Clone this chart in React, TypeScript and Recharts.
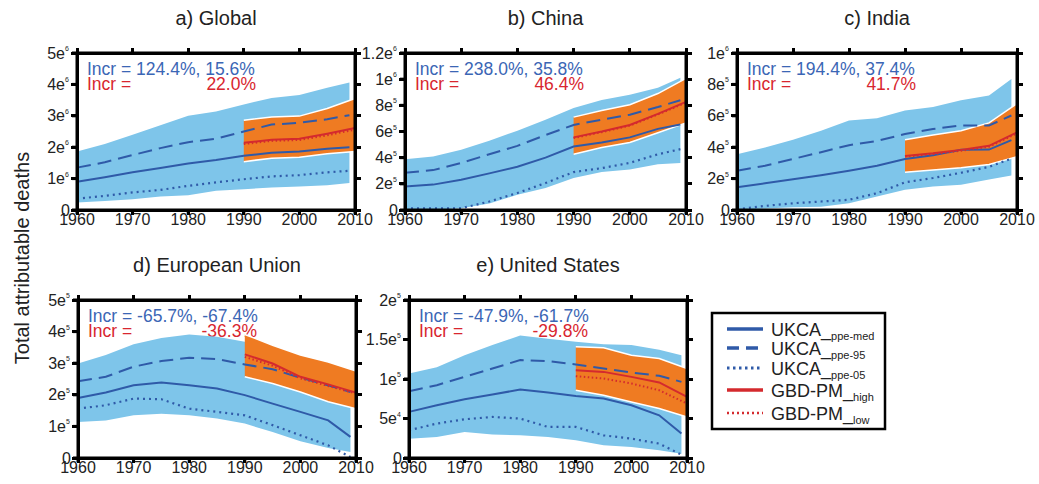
import React from "react";
import { ComposedChart, Area, Line, XAxis, YAxis } from "recharts";

const FONT = '"Liberation Sans", Arial, Helvetica, sans-serif';
const BAND_BLUE = "#7EC5EA";
const BAND_ORANGE = "#EF7B22";
const LINE_BLUE = "#2F5AA8";
const LINE_RED = "#D42A2E";
const TEXT_BLUE = "#3B66B5";
const TEXT_RED = "#D8262F";

const ukcaYears = [1960, 1965, 1970, 1975, 1980, 1985, 1990, 1995, 2000, 2005, 2009];
const gbdYears = [1990, 1995, 2000, 2005, 2010];
const xTicks = [1960, 1970, 1980, 1990, 2000, 2010];

// a) Global (x 1e6)
const globalHi = [1.86, 2.1, 2.4, 2.7, 3.0, 3.14, 3.36, 3.57, 3.66, 3.89, 4.06];
const globalLo = [0.24, 0.29, 0.34, 0.43, 0.47, 0.61, 0.66, 0.72, 0.75, 0.79, 0.86];
const globalMed = [0.9, 1.04, 1.2, 1.34, 1.48, 1.59, 1.73, 1.82, 1.86, 1.95, 2.0];
const globalP95 = [1.35, 1.52, 1.75, 1.97, 2.16, 2.27, 2.5, 2.72, 2.78, 2.89, 3.02];
const globalP05 = [0.36, 0.45, 0.56, 0.64, 0.77, 0.88, 0.98, 1.07, 1.11, 1.2, 1.25];
const globalGbdHi = [2.86, 2.96, 2.99, 3.23, 3.55];
const globalGbdLo = [1.54, 1.65, 1.68, 1.79, 1.86];
const globalGbdHigh = [2.14, 2.24, 2.27, 2.43, 2.61];
const globalGbdLow = [2.1, 2.2, 2.23, 2.38, 2.56];

// b) China (x 1e5)
const chinaHi = [3.87, 4.08, 4.6, 5.3, 6.06, 6.9, 7.8, 8.4, 8.8, 9.34, 10.1];
const chinaLo = [0, 0, 0.13, 0.5, 1.16, 1.68, 2.45, 2.9, 3.1, 3.5, 3.6];
const chinaMed = [1.8, 1.94, 2.32, 2.8, 3.3, 4.0, 4.85, 5.16, 5.55, 6.2, 6.53];
const chinaP95 = [2.84, 3.05, 3.6, 4.26, 4.9, 5.73, 6.5, 6.9, 7.28, 7.87, 8.39];
const chinaP05 = [0.13, 0.13, 0.13, 0.65, 1.3, 2.06, 2.9, 3.2, 3.6, 4.26, 4.65];
const chinaGbdHi = [7.1, 7.6, 8.05, 8.9, 10.06];
const chinaGbdLo = [4.26, 4.77, 5.16, 5.9, 6.66];
const chinaGbdHigh = [5.55, 6.0, 6.5, 7.35, 8.26];
const chinaGbdLow = [5.5, 5.95, 6.45, 7.3, 8.2];

// c) India (x 1e5)
const indiaHi = [3.55, 3.98, 4.47, 5.05, 5.7, 5.85, 6.34, 6.56, 6.99, 7.3, 8.34];
const indiaLo = [0, 0.1, 0.17, 0.2, 0.43, 0.86, 1.29, 1.5, 1.61, 1.94, 2.2];
const indiaMed = [1.45, 1.7, 1.96, 2.22, 2.5, 2.82, 3.25, 3.48, 3.83, 3.85, 4.45];
const indiaP95 = [2.5, 2.82, 3.25, 3.68, 4.13, 4.4, 4.84, 5.16, 5.38, 5.38, 6.02];
const indiaP05 = [0.04, 0.26, 0.43, 0.54, 0.65, 1.07, 1.76, 2.04, 2.37, 2.75, 3.27];
const indiaGbdHi = [4.47, 4.77, 5.05, 5.55, 6.77];
const indiaGbdLo = [2.4, 2.54, 2.69, 2.9, 3.4];
const indiaGbdHigh = [3.44, 3.61, 3.83, 4.09, 4.95];
const indiaGbdLow = [3.4, 3.56, 3.78, 4.03, 4.88];

// d) European Union (x 1e5)
const euHi = [2.99, 3.26, 3.6, 3.8, 3.91, 3.84, 3.68, 3.2, 2.85, 2.55, 2.35];
const euLo = [1.14, 1.19, 1.35, 1.4, 1.35, 1.25, 1.09, 0.82, 0.53, 0.32, 0.19];
const euMed = [1.9, 2.07, 2.3, 2.39, 2.3, 2.2, 1.99, 1.72, 1.46, 1.19, 0.67];
const euP95 = [2.43, 2.57, 2.89, 3.07, 3.17, 3.13, 2.96, 2.81, 2.54, 2.3, 2.09];
const euP05 = [1.56, 1.67, 1.88, 1.86, 1.56, 1.46, 1.35, 1.04, 0.72, 0.4, 0.03];
const euGbdHi = [3.91, 3.57, 3.26, 3.04, 2.75];
const euGbdLo = [2.57, 2.36, 2.09, 1.78, 1.56];
const euGbdHigh = [3.28, 2.99, 2.57, 2.33, 2.07];
const euGbdLow = [3.2, 2.92, 2.52, 2.28, 2.04];

// e) United States (x 1e4)
const usHi = [10.7, 11.5, 13.0, 14.3, 15.5, 15.1, 14.7, 14.4, 14.3, 13.7, 13.0];
const usLo = [2.45, 2.66, 3.3, 2.96, 2.87, 2.66, 2.24, 1.6, 1.4, 0.97, 0.55];
const usMed = [5.84, 6.68, 7.44, 8.03, 8.67, 8.29, 7.86, 7.53, 6.68, 5.41, 3.09];
const usP95 = [8.46, 9.22, 10.27, 11.33, 12.39, 12.26, 11.84, 11.33, 10.82, 10.4, 9.64];
const usP05 = [3.51, 4.36, 4.9, 5.2, 4.99, 3.93, 3.93, 2.87, 2.45, 1.82, 0.42];
const usGbdHi = [14.08, 13.95, 13.0, 12.6, 11.33];
const usGbdLo = [8.58, 7.95, 7.1, 6.26, 5.2];
const usGbdHigh = [11.12, 10.9, 10.27, 9.56, 7.74];
const usGbdLow = [10.36, 10.06, 9.43, 8.58, 6.89];

const yTicksGlobal = [0, 1e6, 2e6, 3e6, 4e6, 5e6];
const yTicksChina = [0, 2e5, 4e5, 6e5, 8e5, 1e6, 1.2e6];
const yTicksIndia = [0, 2e5, 4e5, 6e5, 8e5, 1e6];
const yTicksEU = [0, 1e5, 2e5, 3e5, 4e5, 5e5];
const yTicksUS = [0, 5e4, 1e5, 1.5e5, 2e5];

const titles = ["a) Global", "b) China", "c) India", "d) European Union", "e) United States"];
const incrUkca = ["124.4%, 15.6%", "238.0%, 35.8%", "194.4%, 37.4%", "-65.7%, -67.4%", "-47.9%, -61.7%"];
const incrGbd = ["22.0%", "46.4%", "41.7%", "-36.3%", "-29.8%"];

const legendNames = ["UKCA", "UKCA", "UKCA", "GBD-PM", "GBD-PM"];
const legendSubs = ["ppe-med", "ppe-95", "ppe-05", "high", "low"];

function buildRows(unit, hi, lo, med, p95, p05, gHi, gLo, gHigh, gLow) {
  const years = Array.from(new Set([...ukcaYears, ...gbdYears])).sort((a, b) => a - b);
  return years.map((year) => {
    const row: any = { year };
    const i = ukcaYears.indexOf(year);
    if (i >= 0) {
      row.band = [lo[i] * unit, hi[i] * unit];
      row.med = med[i] * unit;
      row.p95 = p95[i] * unit;
      row.p05 = p05[i] * unit;
    }
    const j = gbdYears.indexOf(year);
    if (j >= 0) {
      row.gbdBand = [gLo[j] * unit, gHi[j] * unit];
      row.gbdHigh = gHigh[j] * unit;
      row.gbdLow = gLow[j] * unit;
    }
    return row;
  });
}

const panels = [
  { rows: buildRows(1e6, globalHi, globalLo, globalMed, globalP95, globalP05, globalGbdHi, globalGbdLo, globalGbdHigh, globalGbdLow), yTicks: yTicksGlobal },
  { rows: buildRows(1e5, chinaHi, chinaLo, chinaMed, chinaP95, chinaP05, chinaGbdHi, chinaGbdLo, chinaGbdHigh, chinaGbdLow), yTicks: yTicksChina },
  { rows: buildRows(1e5, indiaHi, indiaLo, indiaMed, indiaP95, indiaP05, indiaGbdHi, indiaGbdLo, indiaGbdHigh, indiaGbdLow), yTicks: yTicksIndia },
  { rows: buildRows(1e5, euHi, euLo, euMed, euP95, euP05, euGbdHi, euGbdLo, euGbdHigh, euGbdLow), yTicks: yTicksEU },
  { rows: buildRows(1e4, usHi, usLo, usMed, usP95, usP05, usGbdHi, usGbdLo, usGbdHigh, usGbdLow), yTicks: yTicksUS },
];

// plot-area boxes on the page
const boxes = [
  { x: 77, y: 53, w: 278, h: 157 },
  { x: 405, y: 53, w: 281, h: 157 },
  { x: 737, y: 53, w: 280, h: 157 },
  { x: 78, y: 300, w: 278, h: 158 },
  { x: 409, y: 300, w: 278, h: 158 },
];

function sci(v: number) {
  if (v === 0) return { m: "0", e: "" };
  const e = Math.floor(Math.log10(v) + 1e-9);
  const m = +(v / Math.pow(10, e)).toFixed(1);
  return { m: String(m) + "e", e: String(e) };
}

function SciTick(props: any) {
  const { x, y, payload } = props;
  const s = sci(payload.value);
  return (
    <g>
      <text x={s.e ? x - 5 : x} y={y + 5.5} textAnchor="end" fontSize={16} fill="#222">
        {s.m}
      </text>
      {s.e && (
        <text x={x - 5} y={y - 2} fontSize={7} fill="#222">
          {s.e}
        </text>
      )}
    </g>
  );
}

function YearTick(props: any) {
  const { x, y, payload } = props;
  return (
    <text x={x} y={y + 10} textAnchor="middle" fontSize={16} fill="#222">
      {payload.value}
    </text>
  );
}

const L = 60;
const T = 50;
const R = 24;
const B = 24;

function Panel({ idx }: { idx: number }) {
  const p = panels[idx];
  const box = boxes[idx];
  const yMax = p.yTicks[p.yTicks.length - 1];
  return (
    <div style={{ position: "absolute", left: box.x - L, top: box.y - T }}>
      <ComposedChart
        width={box.w + L + R}
        height={box.h + T + B}
        data={p.rows}
        margin={{ top: T - 6, right: R - 8, bottom: 0, left: 0 }}
      >
        <XAxis dataKey="year" type="number" domain={[1960, 2010]} ticks={xTicks} interval={0} height={B} stroke="#000" strokeWidth={3} tickSize={4} tickMargin={1} tick={<YearTick />} />
        <XAxis xAxisId="top" orientation="top" dataKey="year" type="number" domain={[1960, 2010]} ticks={xTicks} height={6} stroke="#000" strokeWidth={3} tickSize={4} tick={false} />
        <YAxis type="number" domain={[0, yMax]} ticks={p.yTicks} interval={0} width={L} stroke="#000" strokeWidth={3} tickSize={5} tickMargin={2} tick={<SciTick />} />
        <YAxis yAxisId="right" orientation="right" type="number" domain={[0, yMax]} ticks={p.yTicks} width={8} stroke="#000" strokeWidth={3} tickSize={5} tick={false} />
        <Area dataKey="band" type="linear" fill={BAND_BLUE} fillOpacity={1} stroke="none" connectNulls dot={false} activeDot={false} isAnimationActive={false} />
        <Area dataKey="gbdBand" type="linear" fill={BAND_ORANGE} fillOpacity={1} stroke="#fff" strokeWidth={1.5} connectNulls dot={false} activeDot={false} isAnimationActive={false} />
        <Line dataKey="med" type="linear" stroke={LINE_BLUE} strokeWidth={2} connectNulls dot={false} activeDot={false} isAnimationActive={false} />
        <Line dataKey="p95" type="linear" stroke={LINE_BLUE} strokeWidth={2} strokeDasharray="14 7" connectNulls dot={false} activeDot={false} isAnimationActive={false} />
        <Line dataKey="p05" type="linear" stroke={LINE_BLUE} strokeWidth={2.2} strokeDasharray="2 4" connectNulls dot={false} activeDot={false} isAnimationActive={false} />
        <Line dataKey="gbdHigh" type="linear" stroke={LINE_RED} strokeWidth={2} connectNulls dot={false} activeDot={false} isAnimationActive={false} />
        <Line dataKey="gbdLow" type="linear" stroke={LINE_RED} strokeWidth={2} strokeDasharray="1.5 2.5" connectNulls dot={false} activeDot={false} isAnimationActive={false} />
        <text x={L + box.w / 2} y={T - 28} textAnchor="middle" fontSize={20} fill="#222">
          {titles[idx]}
        </text>
        <text x={L + 10} y={T + 22} fontSize={17.5} fill={TEXT_BLUE}>
          {"Incr = " + incrUkca[idx]}
        </text>
        <text x={L + 10} y={T + 37} fontSize={17.5} fill={TEXT_RED}>
          Incr =
        </text>
        <text x={L + 179} y={T + 37} textAnchor="end" fontSize={17.5} fill={TEXT_RED}>
          {incrGbd[idx]}
        </text>
      </ComposedChart>
    </div>
  );
}

// HTML box outline and outward ticks for each panel, laid over the charts
function Frame({ idx }: { idx: number }) {
  const b = boxes[idx];
  const yt = panels[idx].yTicks;
  const yMax = yt[yt.length - 1];
  const mark = (left: number, top: number, w: number, h: number, key: string) => (
    <div key={key} style={{ position: "absolute", left, top, width: w, height: h, background: "#000" }} />
  );
  return (
    <div style={{ position: "absolute", left: 0, top: 0, width: 1039, height: 484, pointerEvents: "none", zIndex: 5 }}>
      <div
        style={{
          position: "absolute",
          left: b.x - 1.5,
          top: b.y - 1.5,
          width: b.w + 3,
          height: b.h + 3,
          border: "3px solid #000",
          boxSizing: "border-box",
        }}
      />
      {xTicks.map((t) => {
        const x = b.x + ((t - 1960) / 50) * b.w;
        return [mark(x - 1.5, b.y + b.h, 3, 5, "b" + t), mark(x - 1.5, b.y - 5, 3, 5, "t" + t)];
      })}
      {yt.map((t) => {
        const y = b.y + b.h - (t / yMax) * b.h;
        return [mark(b.x - 6, y - 1.5, 6, 3, "l" + t), mark(b.x + b.w, y - 1.5, 6, 3, "r" + t)];
      })}
    </div>
  );
}

const legendLineStyles = [
  { stroke: LINE_BLUE, dash: undefined, w: 3.5 },
  { stroke: LINE_BLUE, dash: "12 7", w: 3.5 },
  { stroke: LINE_BLUE, dash: "2.5 3.5", w: 3 },
  { stroke: LINE_RED, dash: undefined, w: 3.5 },
  { stroke: LINE_RED, dash: "2 3", w: 2.5 },
];
const legendRowY = [29, 48, 68, 90, 113];

function LegendBox() {
  return (
    <svg width={200} height={140} style={{ position: "absolute", left: 700, top: 300, zIndex: 6 }}>
      <rect x={12} y={13} width={173} height={116} fill="#fff" stroke="#000" strokeWidth={2.5} />
      {legendNames.map((name, i) => (
        <g key={i}>
          <line x1={27} x2={63} y1={legendRowY[i]} y2={legendRowY[i]} stroke={legendLineStyles[i].stroke} strokeWidth={legendLineStyles[i].w} strokeDasharray={legendLineStyles[i].dash} />
          <text x={71} y={legendRowY[i] + 7} fontSize={18} fill="#222">
            {name}_
            <tspan fontSize={11} dy={4}>
              {legendSubs[i]}
            </tspan>
          </text>
        </g>
      ))}
    </svg>
  );
}

export default function App() {
  return (
    <div style={{ position: "absolute", left: 0, top: 0, width: 1039, height: 484, background: "#fff", fontFamily: FONT }}>
      {panels.map((_, i) => (
        <Panel key={i} idx={i} />
      ))}
      {panels.map((_, i) => (
        <Frame key={"f" + i} idx={i} />
      ))}
      <svg width={50} height={484} style={{ position: "absolute", left: 0, top: 0, zIndex: 6 }}>
        <text x={0} y={0} transform="translate(29,258) rotate(-90)" textAnchor="middle" fontSize={20} fill="#222">
          Total attributable deaths
        </text>
      </svg>
      <LegendBox />
    </div>
  );
}
